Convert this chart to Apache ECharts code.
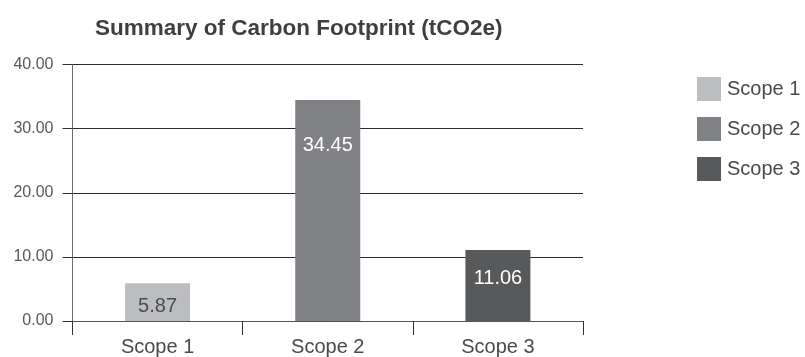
<!DOCTYPE html>
<html>
<head>
<meta charset="utf-8">
<script src="https://cdn.jsdelivr.net/npm/echarts@6/dist/echarts.min.js"></script>
<style>
  html, body { margin: 0; padding: 0; background: #ffffff; }
  #chart { width: 805px; height: 357px; }
</style>
</head>
<body>
<div id="chart"></div>
<script>
// Emissions by scope, tonnes CO2 equivalent
const categories = ['Scope 1', 'Scope 2', 'Scope 3'];
const values = [5.87, 34.45, 11.06];
const yTicks = [0, 10, 20, 30, 40];

const barColors = ['#bcbdbf', '#808184', '#58595b'];
const labelColors = ['#4d4d4f', '#ffffff', '#ffffff'];
const labelDistances = [13, 35, 18];

const FONT = '"Liberation Sans", Arial, sans-serif';

// One series per scope so each gets its own legend entry; stacking keeps bars centred
const series = categories.map((name, i) => ({
  name: name,
  type: 'bar',
  stack: 'total',
  barWidth: 65,
  itemStyle: { color: barColors[i] },
  label: {
    show: true,
    position: 'insideTop',
    distance: labelDistances[i],
    color: labelColors[i],
    fontFamily: FONT,
    fontSize: 20,
    formatter: p => values[i].toFixed(2)
  },
  emphasis: { disabled: true },
  data: categories.map((c, j) => (j === i ? values[i] : null))
}));

const chart = echarts.init(document.getElementById('chart'), null, { renderer: 'canvas' });
chart.setOption({
  animation: false,
  backgroundColor: '#ffffff',
  title: {
    text: 'Summary of Carbon Footprint (tCO2e)',
    left: 90,
    top: 12,
    textStyle: { fontFamily: FONT, fontSize: 22.5, fontWeight: 'bold', color: '#3f3f41' }
  },
  legend: {
    orient: 'vertical',
    left: 692,
    top: 72,
    icon: 'rect',
    itemWidth: 24,
    itemHeight: 24,
    itemGap: 16,
    selectedMode: false,
    textStyle: { fontFamily: FONT, fontSize: 20, color: '#4a4a4c', padding: [0, 0, 0, 1] },
    data: categories
  },
  grid: { left: 72.5, right: 222, top: 64.5, bottom: 35.3, containLabel: false },
  xAxis: {
    type: 'category',
    data: categories,
    boundaryGap: true,
    axisLine: { show: true, lineStyle: { color: '#555555', width: 1 } },
    axisTick: { show: true, length: 14, alignWithLabel: false, lineStyle: { color: '#333333' } },
    axisLabel: { fontFamily: FONT, fontSize: 20, color: '#4a4a4c', margin: 16 },
    splitLine: { show: false }
  },
  yAxis: {
    type: 'value',
    min: yTicks[0],
    max: yTicks[yTicks.length - 1],
    interval: yTicks[1] - yTicks[0],
    axisLine: { show: true, lineStyle: { color: '#6d6d6d', width: 1 } },
    axisTick: { show: true, inside: false, length: 10, lineStyle: { color: '#333333' } },
    axisLabel: { fontFamily: FONT, fontSize: 16, color: '#5a5a5c', margin: 19, formatter: v => v.toFixed(2) },
    splitLine: { show: true, lineStyle: { color: '#2b2b2b', width: 1 } }
  },
  series: series
});
</script>
</body>
</html>
